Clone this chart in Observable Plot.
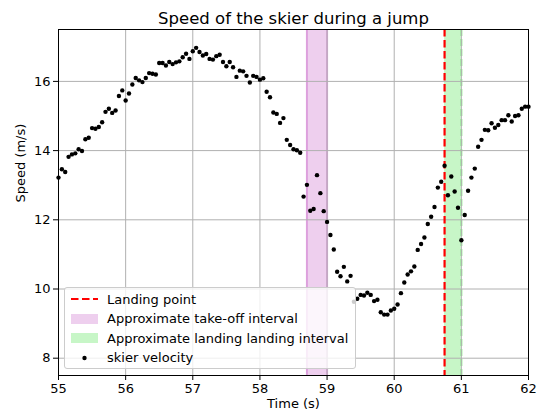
<!DOCTYPE html>
<html>
<head>
<meta charset="utf-8">
<script src="https://cdn.jsdelivr.net/npm/d3@7"></script>
<script src="https://cdn.jsdelivr.net/npm/@observablehq/plot@0.6"></script>
<style>
  body { margin: 0; background: #fff; }
  #wrap { position: relative; width: 537px; height: 414px; font-family: "DejaVu Sans", sans-serif; }
  #legend { position: absolute; left: 64px; top: 287px; width: 292px; height: 82px; box-sizing: border-box;
            border: 1px solid #cccccc; border-radius: 3px; background: rgba(255,255,255,0.8);
            font-size: 13px; color: #000; }
  .row { position: absolute; left: 5px; height: 18px; display: flex; align-items: center; white-space: nowrap; }
  .row svg { margin-right: 8px; }
</style>
</head>
<body>
<div id="wrap"><div id="legend"></div></div>
<script>
// ---- data ----
const title = "Speed of the skier during a jump";
const xLabel = "Time (s)";
const yLabel = "Speed (m/s)";
const xTicks = [55, 56, 57, 58, 59, 60, 61, 62];
const yTicks = [8, 10, 12, 14, 16];
const startTime = 55;      // first sample time (s)
const sampleStep = 0.05;   // sampling interval (s)
const speed = [
  13.22, 13.46, 13.38, 13.82, 13.89, 13.92, 14.04, 13.99, 14.33, 14.37,
  14.65, 14.63, 14.68, 14.82, 15.12, 15.21, 15.09, 15.16, 15.58, 15.74,
  15.45, 15.65, 15.91, 16.10, 16.03, 15.98, 16.10, 16.24, 16.22, 16.20,
  16.53, 16.53, 16.46, 16.56, 16.50, 16.55, 16.58, 16.70, 16.80, 16.65,
  16.87, 16.97, 16.85, 16.75, 16.79, 16.65, 16.63, 16.73, 16.77, 16.56,
  16.44, 16.56, 16.41, 16.13, 16.31, 16.29, 16.16, 15.97, 16.16, 16.13,
  16.05, 16.09, 15.70, 15.54, 15.10, 15.06, 14.80, 14.94, 14.31, 14.16,
  14.04, 14.01, 13.94, 12.67, 13.01, 12.26, 12.31, 13.29, 12.77, 12.25,
  11.94, 11.56, 11.14, 10.50, 10.37, 10.64, 10.22, 10.38, 9.63, 9.72,
  9.83, 9.81, 9.89, 9.83, 9.65, 9.69, 9.33, 9.26, 9.26, 9.38,
  9.43, 9.55, 9.88, 10.19, 10.42, 10.51, 10.65, 11.13, 11.30, 11.49,
  11.88, 12.09, 12.37, 12.93, 13.10, 13.56, 12.71, 13.25, 12.82, 12.35,
  11.41, 12.14, 12.84, 13.22, 13.48, 14.11, 14.31, 14.60, 14.59, 14.79,
  14.66, 14.74, 14.88, 14.88, 15.02, 14.84, 15.00, 15.02, 15.21, 15.27,
  15.27
];
const takeoffInterval = [58.7, 59.0];
const landingInterval = [60.75, 61.0];
const landingPoint = 60.75;
const legendLabels = ["Landing point", "Approximate take-off interval",
                      "Approximate landing landing interval", "skier velocity"];

// ---- build ----
const points = speed.map((v, i) => ({t: startTime + sampleStep * i, v}));
const takeoff = [{x1: takeoffInterval[0], x2: takeoffInterval[1]}];
const landing = [{x1: landingInterval[0], x2: landingInterval[1]}];

const pink = "#dda0dd", green = "#90ee90";

const chart = Plot.plot({
  width: 537, height: 414,
  marginLeft: 58, marginRight: 9, marginTop: 29, marginBottom: 39,
  style: {fontFamily: "DejaVu Sans", fontSize: "13px", color: "#000", background: "#fff"},
  x: {domain: [55, 62], label: null},
  y: {domain: [7.5, 17.5], label: null},
  marks: [
    Plot.rect(takeoff, {x1: "x1", x2: "x2", fill: pink, fillOpacity: 0.5}),
    Plot.rect(landing, {x1: "x1", x2: "x2", fill: green, fillOpacity: 0.5}),
    Plot.ruleX(takeoffInterval, {stroke: pink, strokeWidth: 2}),
    Plot.ruleX([landingInterval[1]], {stroke: green, strokeWidth: 2, strokeDasharray: "7,3"}),
    Plot.gridX(xTicks, {stroke: "#b0b0b0", strokeOpacity: 1, strokeWidth: 1}),
    Plot.gridY(yTicks, {stroke: "#b0b0b0", strokeOpacity: 1, strokeWidth: 1}),
    Plot.ruleX([landingPoint], {stroke: "red", strokeWidth: 2.2, strokeDasharray: "7.5,3.5"}),
    Plot.dot(points, {x: "t", y: "v", r: 2.2, fill: "black", stroke: null}),
    Plot.frame({stroke: "black", strokeWidth: 1}),
    Plot.axisX(xTicks, {tickSize: 5, tickPadding: 3, label: null, fontSize: 13, tickFormat: d => String(d)}),
    Plot.axisY(yTicks, {tickSize: 5, tickPadding: 3, label: null, fontSize: 13, tickFormat: d => String(d)}),
    Plot.text([xLabel], {frameAnchor: "bottom", dy: 32, fontSize: 13}),
    Plot.text([yLabel], {frameAnchor: "left", dx: -38, rotate: -90, fontSize: 13}),
    Plot.text([title], {frameAnchor: "top", dy: -17, fontSize: 16.5})
  ]
});
document.getElementById("wrap").prepend(chart);

// ---- legend ----
const legend = document.getElementById("legend");
const handles = [
  `<line x1="1" y1="9" x2="28" y2="9" stroke="red" stroke-width="2.2" stroke-dasharray="7.5,3.5"/>`,
  `<rect x="1" y="4" width="27" height="10" fill="${pink}" fill-opacity="0.5"/>`,
  `<rect x="1" y="4" width="27" height="10" fill="${green}" fill-opacity="0.5"/>`,
  `<circle cx="14.5" cy="9" r="2.2" fill="black"/>`
];
const rowTops = [2, 21.5, 41, 60.5];
legendLabels.forEach((label, i) => {
  const row = document.createElement("div");
  row.className = "row";
  row.style.top = rowTops[i] + "px";
  row.innerHTML = `<svg width="29" height="18">${handles[i]}</svg><span>${label}</span>`;
  legend.appendChild(row);
});
</script>
</body>
</html>
